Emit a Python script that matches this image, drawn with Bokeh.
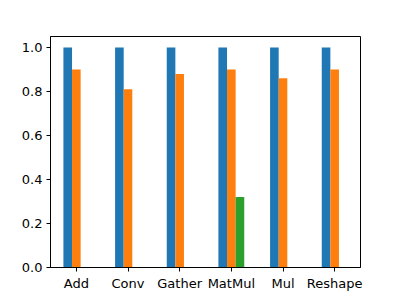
from bokeh.plotting import figure
from bokeh.models import ColumnDataSource, Range1d, FixedTicker, PrintfTickFormatter
from bokeh.transform import dodge
from bokeh.embed import file_html
from bokeh.resources import INLINE

categories = ["Add", "Conv", "Gather", "MatMul", "Mul", "Reshape"]
series_blue = [1.0, 1.0, 1.0, 1.0, 1.0, 1.0]
series_orange = [0.90, 0.81, 0.88, 0.90, 0.86, 0.90]
series_green = [0.0, 0.0, 0.0, 0.32, 0.0, 0.0]
y_ticks = [0.0, 0.2, 0.4, 0.6, 0.8, 1.0]

src = ColumnDataSource(dict(x=list(range(len(categories))),
                            b=series_blue, o=series_orange, g=series_green))

w = 1 / 6
p = figure(width=400, height=300, output_backend="svg", toolbar_location=None,
           x_range=Range1d(-0.5, len(categories) - 1 + 0.5),
           y_range=Range1d(0, 1.05),
           min_border_left=50, min_border_right=40, min_border_top=36, min_border_bottom=33)

p.vbar(x=dodge("x", -w, range=p.x_range), top="b", width=w, source=src, color="#1f77b4", line_color=None)
p.vbar(x=dodge("x", 0, range=p.x_range), top="o", width=w, source=src, color="#ff7f0e", line_color=None)
p.vbar(x=dodge("x", w, range=p.x_range), top="g", width=w, source=src, color="#2ca02c", line_color=None)

p.xgrid.visible = False
p.ygrid.visible = False
p.outline_line_color = "black"
p.outline_line_width = 1
p.outline_line_alpha = 1

p.xaxis.ticker = FixedTicker(ticks=list(range(len(categories))))
p.xaxis.major_label_overrides = {i: c for i, c in enumerate(categories)}
p.yaxis.ticker = FixedTicker(ticks=y_ticks)
p.yaxis.formatter = PrintfTickFormatter(format="%.1f")

for ax in (p.xaxis, p.yaxis):
    ax.major_tick_in = 0
    ax.major_tick_out = 4
    ax.minor_tick_in = 0
    ax.minor_tick_out = 0
    ax.axis_line_color = "black"
    ax.major_tick_line_color = "black"
    ax.major_label_text_font = "DejaVu Sans"
    ax.major_label_text_font_size = "13px"
    ax.major_label_text_color = "black"
    ax.major_label_standoff = 4

p.background_fill_color = "white"
p.border_fill_color = "white"

open("out.html", "w").write(file_html(p, INLINE))
